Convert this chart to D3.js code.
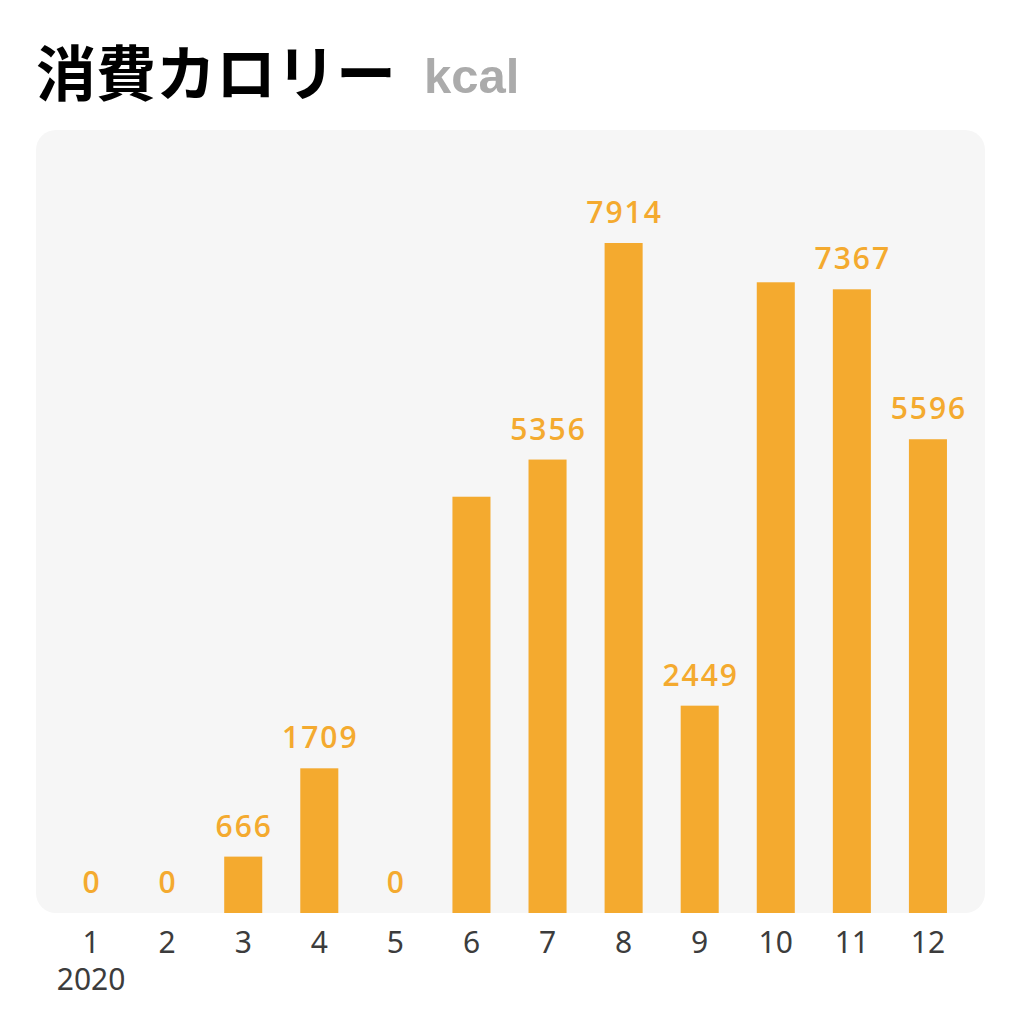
<!DOCTYPE html>
<html>
<head>
<meta charset="utf-8">
<script src="https://cdn.jsdelivr.net/npm/d3@7"></script>
<style>
  html, body { margin: 0; padding: 0; background: #fff; }
</style>
</head>
<body>
<svg id="chart" width="1024" height="1014"></svg>
<script>
const months = ["1", "2", "3", "4", "5", "6", "7", "8", "9", "10", "11", "12"];
const kcal = [0, 0, 666, 1709, 0, 4917, 5356, 7914, 2449, 7450, 7367, 5596];
const showValue = [true, true, true, true, true, false, true, true, true, false, true, true];
const yearLabel = "2020";

const svg = d3.select("#chart");
const orange = "#f4aa2f";

// title
svg.append("text")
  .attr("x", 36)
  .attr("y", 96)
  .attr("font-family", "'Noto Sans CJK JP', sans-serif")
  .attr("font-weight", 700)
  .attr("font-size", 60)
  .attr("fill", "#000")
  .text("消費カロリー");
svg.append("text")
  .attr("x", 424)
  .attr("y", 93)
  .attr("font-family", "'Liberation Sans', Arial, sans-serif")
  .attr("font-weight", 700)
  .attr("font-size", 49)
  .attr("fill", "#ababab")
  .text("kcal");

// panel
const panel = { left: 36, right: 985, top: 130, bottom: 913 };
svg.append("rect")
  .attr("x", panel.left)
  .attr("y", panel.top)
  .attr("width", panel.right - panel.left)
  .attr("height", panel.bottom - panel.top)
  .attr("rx", 20)
  .attr("fill", "#f6f6f6");

const x = d3.scaleBand()
  .domain(months)
  .range([34, 985])
  .padding(0.5);

const y = d3.scaleLinear()
  .domain([0, d3.max(kcal)])
  .range([panel.bottom, 243]);

const data = months.map((m, i) => ({ m, v: kcal[i], show: showValue[i] }));

svg.append("g")
  .selectAll("rect")
  .data(data.filter(d => d.v > 0))
  .enter()
  .append("rect")
  .attr("x", d => x(d.m))
  .attr("y", d => y(d.v))
  .attr("width", x.bandwidth())
  .attr("height", d => panel.bottom - y(d.v))
  .attr("fill", orange);

svg.append("g")
  .selectAll("text")
  .data(data.filter(d => d.show))
  .enter()
  .append("text")
  .attr("x", d => x(d.m) + x.bandwidth() / 2 + 1)
  .attr("y", d => y(d.v) - 20)
  .attr("text-anchor", "middle")
  .attr("font-family", "'Open Sans', 'Noto Sans', sans-serif")
  .attr("font-weight", 600)
  .attr("font-size", 30)
  .attr("letter-spacing", 2)
  .attr("fill", orange)
  .text(d => d.v);

// month axis, year goes on a second line under the first month
const axis = svg.append("g")
  .attr("transform", `translate(0,${panel.bottom})`)
  .call(d3.axisBottom(x).tickSize(0).tickPadding(19));
axis.select(".domain").remove();
axis.selectAll("text")
  .attr("font-family", "'Noto Sans', sans-serif")
  .attr("font-size", 30)
  .attr("fill", "#3c3c3c");

const first = axis.select(".tick text");
first.text(null);
first.append("tspan").attr("x", 0).text(months[0]);
first.append("tspan").attr("x", 0).attr("dy", 37).text(yearLabel);
</script>
</body>
</html>
